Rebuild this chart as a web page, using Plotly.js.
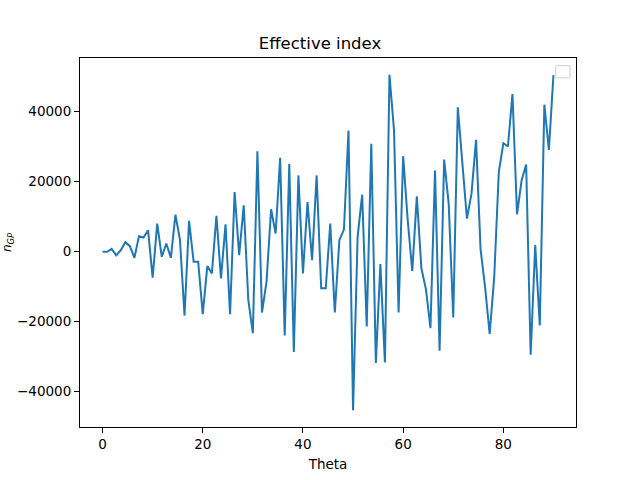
<!DOCTYPE html>
<html>
<head>
<meta charset="utf-8">
<script src="https://cdn.plot.ly/plotly-3.0.1.min.js"></script>
<style>
    html, body { margin: 0; padding: 0; background: #ffffff; }
    #plot { width: 640px; height: 480px; }
</style>
</head>
<body>
<div id="plot"></div>
<script>
// theta grid, 100 evenly spaced samples from 0 to 90
const theta = [
    0.00, 0.91, 1.82, 2.73, 3.64, 4.55, 5.45, 6.36, 7.27, 8.18,
    9.09, 10.00, 10.91, 11.82, 12.73, 13.64, 14.55, 15.45, 16.36, 17.27,
    18.18, 19.09, 20.00, 20.91, 21.82, 22.73, 23.64, 24.55, 25.45, 26.36,
    27.27, 28.18, 29.09, 30.00, 30.91, 31.82, 32.73, 33.64, 34.55, 35.45,
    36.36, 37.27, 38.18, 39.09, 40.00, 40.91, 41.82, 42.73, 43.64, 44.55,
    45.45, 46.36, 47.27, 48.18, 49.09, 50.00, 50.91, 51.82, 52.73, 53.64,
    54.55, 55.45, 56.36, 57.27, 58.18, 59.09, 60.00, 60.91, 61.82, 62.73,
    63.64, 64.55, 65.45, 66.36, 67.27, 68.18, 69.09, 70.00, 70.91, 71.82,
    72.73, 73.64, 74.55, 75.45, 76.36, 77.27, 78.18, 79.09, 80.00, 80.91,
    81.82, 82.73, 83.64, 84.55, 85.45, 86.36, 87.27, 88.18, 89.09, 90.00,
];

// effective index values
const nGP = [
    -190, -190, 660, -1230, 280, 2560, 1420, -1900, 4270, 3890,
    5970, -7590, 7870, -1610, 2180, -1900, 10430, 3320, -18400, 8630,
    -3030, -3030, -18000, -4270, -6350, 10050, -7780, 7680, -18000, 16880,
    -1140, 13090, -13940, -23420, 28540, -17540, -8720, 11950, 5030, 26650,
    -24090, 24940, -28830, 21620, -6350, 14030, -2560, 21620, -10620, -10620,
    7870, -17540, 3130, 6160, 34420, -45430, 4080, 16120, -21530, 30630,
    -31960, -3700, -31770, 50360, 34420, -17540, 27120, 8820, -5690, 15650,
    -4930, -10900, -22000, 23040, -28450, 26170, 13560, -18970, 41060, 25410,
    9290, 16410, 31770, 570, -10430, -23610, -7300, 22570, 30820, 29870,
    44860, 10530, 20200, 24750, -29590, 1710, -21240, 41820, 28920, 50260,
];

const xTicks = [0, 20, 40, 60, 80];
const yTicks = [-40000, -20000, 0, 20000, 40000];

const axisFont = {family: 'DejaVu Sans', size: 13.5, color: '#000000'};

const indexLine = {
    x: theta,
    y: nGP,
    type: 'scatter',
    mode: 'lines',
    line: {color: '#1f77b4', width: 2},
    showlegend: false,
    hoverinfo: 'skip',
};

const layout = {
    width: 640,
    height: 480,
    showlegend: false,
    title: {
        text: 'Effective index',
        font: {family: 'DejaVu Sans', size: 16.5, color: '#000000'},
        x: 0.5,
        xanchor: 'center',
        y: 1 - 43 / 480,
        yanchor: 'middle',
    },
    xaxis: {
        range: [-4.5, 94.5],
        tickvals: xTicks,
        ticktext: xTicks.map(String),
        ticks: 'outside',
        ticklen: 5,
        tickwidth: 1,
        tickcolor: '#000000',
        showline: true,
        linecolor: '#000000',
        linewidth: 1,
        mirror: true,
        showgrid: false,
        zeroline: false,
        tickfont: axisFont,
        title: {text: 'Theta', font: axisFont, standoff: 8},
    },
    yaxis: {
        range: [-50220, 55150],
        tickvals: yTicks,
        ticktext: yTicks.map(v => v < 0 ? '\u2212' + Math.abs(v) : String(v)),
        ticks: 'outside',
        ticklen: 5,
        tickwidth: 1,
        tickcolor: '#000000',
        showline: true,
        linecolor: '#000000',
        linewidth: 1,
        mirror: true,
        showgrid: false,
        zeroline: false,
        tickfont: axisFont,
        title: {text: '<i>n</i><sub><i>GP</i></sub>', font: {family: 'DejaVu Sans', size: 12, color: '#000000'}, standoff: 63},
    },
    shapes: [
        {
            // empty legend frame in the top right corner
            type: 'path',
            xref: 'paper',
            yref: 'paper',
            path: 'M 0.9610,0.9793 L 0.9858,0.9793 Q 0.9878,0.9793 0.9878,0.9763 L 0.9878,0.9492 Q 0.9878,0.9462 0.9858,0.9462 L 0.9610,0.9462 Q 0.9590,0.9462 0.9590,0.9492 L 0.9590,0.9763 Q 0.9590,0.9793 0.9610,0.9793 Z',
            line: {color: '#cccccc', width: 1},
            fillcolor: 'rgba(255,255,255,0.8)',
        },
    ],
    plot_bgcolor: '#ffffff',
    paper_bgcolor: '#ffffff',
    margin: {l: 80, r: 64, t: 58, b: 53, pad: 0},
    hovermode: false,
};

Plotly.newPlot('plot', [indexLine], layout, {
    displayModeBar: false,
    staticPlot: true,
});
</script>
</body>
</html>
